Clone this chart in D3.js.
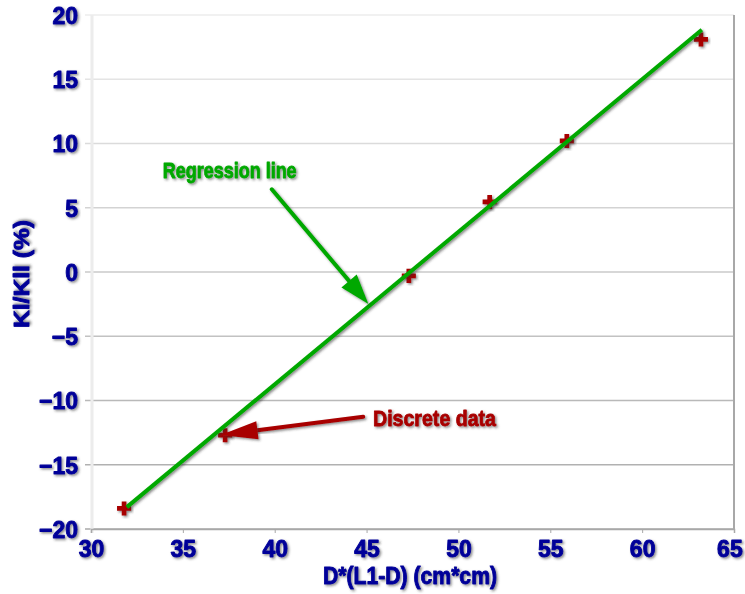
<!DOCTYPE html>
<html>
<head>
<meta charset="utf-8">
<script src="https://cdn.jsdelivr.net/npm/d3@7"></script>
<style>
  body { margin: 0; background: #fff; }
  svg { display: block; }
  text { font-family: "Liberation Sans", Arial, sans-serif; font-weight: bold; }
</style>
</head>
<body>
<svg id="chart" width="745" height="594"></svg>
<script>
// measured points (D*(L1-D), Kl/Kll)
const xValues = [31.8, 37.3, 47.3, 51.7, 55.9, 63.2];
const yValues = [-18.4, -12.7, -0.3, 5.45, 10.2, 18.1];

// regression line end points as drawn
const regX = [31.95, 63.25];
const regY = [-18.3, 18.85];

const xTicks = [30, 35, 40, 45, 50, 55, 60, 65];
const yTicks = [-20, -15, -10, -5, 0, 5, 10, 15, 20];

const xLabel = "D*(L1-D) (cm*cm)";
const yLabel = "Kl/Kll (%)";

const blue = "#000099";
const green = "#00a800";
const red = "#a80000";

const svg = d3.select("#chart");
const margin = { top: 15, right: 11, bottom: 65, left: 91 };
const width = 745 - margin.left - margin.right;
const height = 594 - margin.top - margin.bottom;

const defs = svg.append("defs");
const shadow = defs.append("filter").attr("id", "shadow")
  .attr("x", "-20%").attr("y", "-20%").attr("width", "140%").attr("height", "140%");
shadow.append("feDropShadow")
  .attr("dx", 1.5).attr("dy", 1.5).attr("stdDeviation", 0.8)
  .attr("flood-color", "#333").attr("flood-opacity", 0.55);

// heavy text: fill plus a thin stroke of the same colour
function heavy(sel, color, sw) {
  sel.attr("fill", color)
    .attr("stroke", color)
    .attr("stroke-width", sw)
    .attr("stroke-linejoin", "round")
    .attr("filter", "url(#shadow)");
}

const x = d3.scaleLinear().domain([30, 65]).range([0, width]);
const y = d3.scaleLinear().domain([-20, 20]).range([height, 0]);

const g = svg.append("g").attr("transform", `translate(${margin.left},${margin.top})`);

// horizontal grid, lighter at the top, darker at the bottom
const gridColor = d3.interpolateRgb("#ececec", "#a8a8a8");
g.selectAll("line.grid")
  .data(yTicks)
  .enter()
  .append("line")
  .attr("class", "grid")
  .attr("x1", -6)
  .attr("x2", width)
  .attr("y1", d => y(d))
  .attr("y2", d => y(d))
  .attr("stroke", d => gridColor((20 - d) / 40))
  .attr("stroke-width", 1.5);

// left axis line
g.append("line")
  .attr("x1", 1).attr("x2", 1)
  .attr("y1", 0).attr("y2", height + 4)
  .attr("stroke", "#ececec").attr("stroke-width", 3);

// right border
g.append("line")
  .attr("x1", width).attr("x2", width)
  .attr("y1", 0).attr("y2", height)
  .attr("stroke", "#a8a8a8").attr("stroke-width", 2);

// x axis
const xAxis = g.append("g")
  .attr("transform", `translate(0,${height})`)
  .call(d3.axisBottom(x).tickValues(xTicks).tickSize(4).tickPadding(8));
xAxis.select(".domain").attr("stroke", "#a8a8a8").attr("stroke-width", 1.5);
xAxis.selectAll(".tick line").attr("stroke", "#a8a8a8");
xAxis.selectAll("text")
  .style("font-size", "23px")
  .attr("dx", d => d === 65 ? "-0.2em" : 0)
  .call(heavy, blue, 0.9);

// y axis
const yAxis = g.append("g")
  .call(d3.axisLeft(y).tickValues(yTicks).tickSize(0).tickPadding(13)
    .tickFormat(d => d < 0 ? "\u2212" + Math.abs(d) : d));
yAxis.select(".domain").remove();
yAxis.selectAll("text")
  .style("font-size", "23px")
  .attr("dy", "0.36em")
  .call(heavy, blue, 0.9);

// axis titles
svg.append("text")
  .attr("x", 410)
  .attr("y", 584)
  .attr("text-anchor", "middle")
  .attr("textLength", 174)
  .attr("lengthAdjust", "spacingAndGlyphs")
  .style("font-size", "23px")
  .call(heavy, blue, 0.9)
  .text(xLabel);

svg.append("text")
  .attr("transform", "translate(29,274) rotate(-90)")
  .attr("text-anchor", "middle")
  .attr("textLength", 108)
  .attr("lengthAdjust", "spacingAndGlyphs")
  .style("font-size", "22px")
  .call(heavy, blue, 0.9)
  .text(yLabel);

// data markers (plus signs), under the line
const points = xValues.map((v, i) => ({ x: v, y: yValues[i] }));
g.selectAll("path.pt")
  .data(points)
  .enter()
  .append("path")
  .attr("class", "pt")
  .attr("d", d3.symbol(d3.symbolCross, 110))
  .attr("transform", d => `translate(${x(d.x)},${y(d.y)})`)
  .attr("fill", red)
  .attr("filter", "url(#shadow)");

// regression line
g.append("line")
  .attr("x1", x(regX[0])).attr("y1", y(regY[0]))
  .attr("x2", x(regX[1])).attr("y2", y(regY[1]))
  .attr("stroke", green)
  .attr("stroke-width", 4)
  .attr("filter", "url(#shadow)");

// annotations
function arrow(x0, y0, x1, y1, color, headLen, headHalf, sw) {
  const dx = x1 - x0, dy = y1 - y0;
  const len = Math.sqrt(dx * dx + dy * dy);
  const ux = dx / len, uy = dy / len;
  const bx = x1 - ux * headLen, by = y1 - uy * headLen;
  g.append("line")
    .attr("x1", x0).attr("y1", y0)
    .attr("x2", bx + ux * 2).attr("y2", by + uy * 2)
    .attr("stroke", color).attr("stroke-width", sw)
    .attr("stroke-linecap", "round")
    .attr("filter", "url(#shadow)");
  g.append("path")
    .attr("d", `M${x1},${y1}L${bx - uy * headHalf},${by + ux * headHalf}L${bx + uy * headHalf},${by - ux * headHalf}Z`)
    .attr("fill", color)
    .attr("filter", "url(#shadow)");
}

arrow(x(39.84), y(6.44), x(45.1), y(-2.49), green, 30, 10, 4);
arrow(x(44.82), y(-11.26), x(37.06), y(-12.68), red, 37, 9, 4);

g.append("text")
  .attr("x", x(33.9))
  .attr("y", y(7.3))
  .attr("textLength", 134)
  .attr("lengthAdjust", "spacingAndGlyphs")
  .style("font-size", "22px")
  .call(heavy, green, 0.8)
  .text("Regression line");

g.append("text")
  .attr("x", x(45.35))
  .attr("y", y(-12.0))
  .attr("textLength", 123)
  .attr("lengthAdjust", "spacingAndGlyphs")
  .style("font-size", "22px")
  .call(heavy, red, 0.8)
  .text("Discrete data");
</script>
</body>
</html>
